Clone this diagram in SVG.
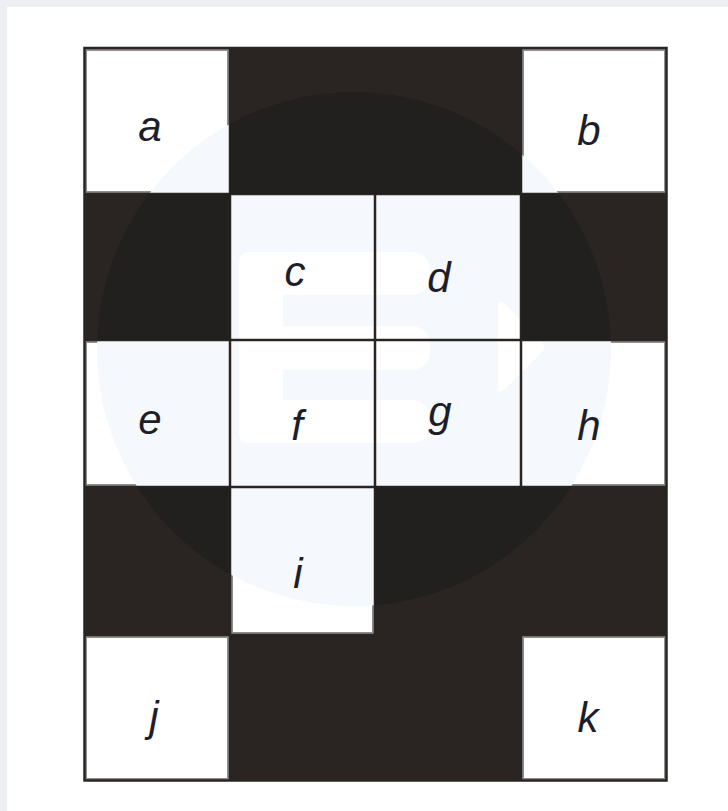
<svg xmlns="http://www.w3.org/2000/svg" width="728" height="811" viewBox="0 0 728 811">
  <style>
    .dark { fill: #2a2522; }
    .light { fill: #ffffff; stroke: #8e8e8e; stroke-width: 2; }
    .lbl { font-family: "Liberation Sans", Arial, sans-serif; font-style: italic; font-size: 42px; fill: #1e1e2a; text-anchor: middle; }
    .grid { stroke: #2a2522; stroke-width: 2.5; fill: none; }
  </style>
  <defs>
    <clipPath id="clipDark">
      <rect x="230" y="47" width="291" height="147"/>
      <rect x="84" y="194" width="146" height="146"/>
      <rect x="521" y="194" width="146" height="146"/>
      <rect x="84" y="487" width="146" height="148"/>
      <rect x="375" y="487" width="292" height="148"/>
      <rect x="230" y="635" width="291" height="146"/>
    </clipPath>
    <clipPath id="clipLight">
      <rect x="84" y="47" width="146" height="147"/>
      <rect x="521" y="47" width="146" height="147"/>
      <rect x="230" y="194" width="291" height="146"/>
      <rect x="84" y="340" width="583" height="147"/>
      <rect x="230" y="487" width="145" height="148"/>
      <rect x="84" y="635" width="146" height="146"/>
      <rect x="521" y="635" width="146" height="146"/>
    </clipPath>
  </defs>

  <!-- page -->
  <rect x="0" y="0" width="728" height="811" fill="#eeeff3"/>
  <rect x="7" y="7" width="721" height="804" fill="#ffffff"/>

  <!-- dark cells -->
  <g id="dark-cells">
    <rect class="dark" x="230" y="47" width="291" height="147"/>
    <rect class="dark" x="84" y="194" width="146" height="146"/>
    <rect class="dark" x="521" y="194" width="146" height="146"/>
    <rect class="dark" x="84" y="487" width="146" height="148"/>
    <rect class="dark" x="375" y="487" width="292" height="148"/>
    <rect class="dark" x="230" y="635" width="291" height="146"/>
  </g>

  <!-- light cells -->
  <g id="node-a"><rect class="light" x="86" y="50" width="142" height="142"/></g>
  <g id="node-b"><rect class="light" x="523" y="50" width="142" height="142"/></g>
  <g id="node-c"><rect class="light" x="232" y="196" width="141" height="142"/></g>
  <g id="node-d"><rect class="light" x="377" y="196" width="142" height="142"/></g>
  <g id="node-e"><rect class="light" x="86" y="342" width="142" height="143"/></g>
  <g id="node-f"><rect class="light" x="232" y="342" width="141" height="143"/></g>
  <g id="node-g"><rect class="light" x="377" y="342" width="142" height="143"/></g>
  <g id="node-h"><rect class="light" x="523" y="342" width="142" height="143"/></g>
  <g id="node-i"><rect class="light" x="232" y="489" width="141" height="144"/></g>
  <g id="node-j"><rect class="light" x="86" y="637" width="142" height="142"/></g>
  <g id="node-k"><rect class="light" x="523" y="637" width="142" height="142"/></g>

  <!-- faint watermark on light cells -->
  <g id="watermark-light" clip-path="url(#clipLight)">
    <circle cx="354" cy="349" r="257" fill="#f5f8fc"/>
    <path fill="#ffffff" d="M239,262 Q239,252 249,252 L410,252 Q430,252 430,273 Q430,295 410,295 L283,295 L283,326 L410,326 Q430,326 430,348 Q430,370 410,370 L283,370 L283,400 L410,400 Q430,400 430,421 Q430,443 410,443 L249,443 Q239,443 239,433 Z"/>
    <path fill="#ffffff" d="M498,306 Q498,300 504,303 L542,342 Q546,347 542,352 L504,390 Q498,394 498,388 Z"/>
  </g>

  <!-- grid lines -->
  <g id="connectors">
    <rect class="grid" x="84.5" y="48" width="582" height="732.5"/>
    <line class="grid" x1="230" y1="47" x2="230" y2="781"/>
    <line class="grid" x1="375" y1="47" x2="375" y2="781"/>
    <line class="grid" x1="521" y1="47" x2="521" y2="781"/>
    <line class="grid" x1="84" y1="194" x2="667" y2="194"/>
    <line class="grid" x1="84" y1="340" x2="667" y2="340"/>
    <line class="grid" x1="84" y1="487" x2="667" y2="487"/>
    <line class="grid" x1="84" y1="635" x2="667" y2="635"/>
  </g>

  <!-- faint watermark on dark cells -->
  <g id="watermark-dark">
    <circle cx="354" cy="349" r="257" fill="#22201f" clip-path="url(#clipDark)"/>
  </g>

  <!-- labels -->
  <g id="labels">
    <text class="lbl" x="150" y="141">a</text>
    <text class="lbl" x="589" y="145">b</text>
    <text class="lbl" x="295" y="286">c</text>
    <text class="lbl" x="439" y="292">d</text>
    <text class="lbl" x="150" y="434">e</text>
    <text class="lbl" x="297" y="440">f</text>
    <text class="lbl" x="440" y="426">g</text>
    <text class="lbl" x="589" y="440">h</text>
    <text class="lbl" x="298" y="588">i</text>
    <text class="lbl" x="154" y="731">j</text>
    <text class="lbl" x="588" y="732">k</text>
  </g>
</svg>
